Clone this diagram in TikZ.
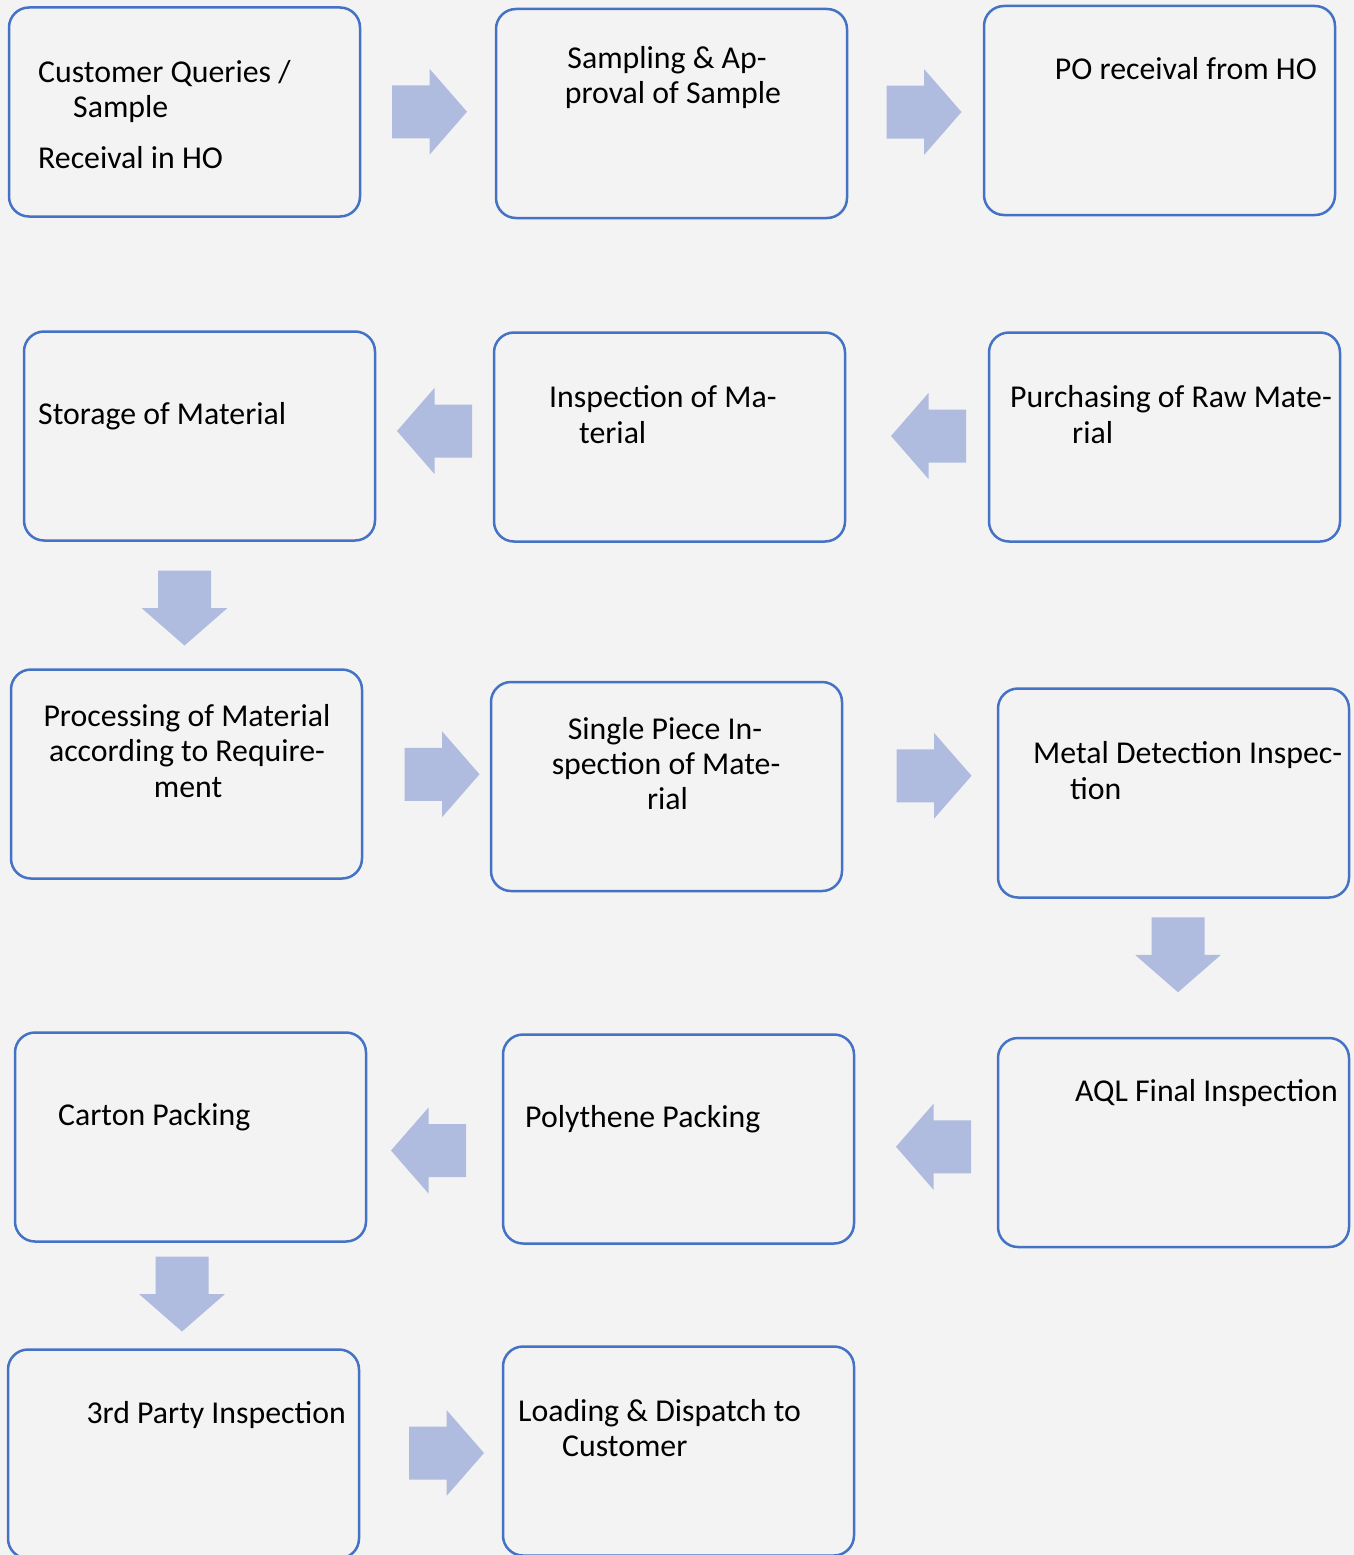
\documentclass[tikz,border=0pt]{standalone}
\usepackage{fontspec}
\setmainfont{Carlito}
\usetikzlibrary{calc}
\definecolor{pagebg}{RGB}{243,243,243}
\definecolor{boxline}{RGB}{68,114,196}
\definecolor{arrowfill}{RGB}{175,188,224}
\tikzset{
  stepbox/.style={draw=boxline, line width=2.5pt, rounded corners=20pt,
    minimum width=351pt, minimum height=209pt, inner sep=0pt},
  lbl/.style={inner sep=0pt, font=\fontsize{31.8}{36}\selectfont, text=black},
  blockarrow/.pic={
    \fill[arrowfill] (-37.5,-26.5) -- (0,-26.5) -- (0,-43) -- (37.5,0)
      -- (0,43) -- (0,26.5) -- (-37.5,26.5) -- cycle;
  },
}
\begin{document}
\begin{tikzpicture}[x=1pt, y=-1pt]
  \fill[pagebg] (0,0) rectangle (1354,1555);
  \useasboundingbox (0,0) rectangle (1354,1555);

  % process steps
  \node[stepbox] (b1)  at (184.5,112)   {};
  \node[stepbox] (b2)  at (671.5,113.5) {};
  \node[stepbox] (b3)  at (1159.5,110.5) {};
  \node[stepbox] (b4)  at (199.5,436)   {};
  \node[stepbox] (b5)  at (669.5,437)   {};
  \node[stepbox] (b6)  at (1164.5,437)  {};
  \node[stepbox] (b7)  at (186.5,774)   {};
  \node[stepbox] (b8)  at (666.5,786.5) {};
  \node[stepbox] (b9)  at (1173.5,793)  {};
  \node[stepbox] (b10) at (1173.5,1142.5) {};
  \node[stepbox] (b11) at (678.5,1139)  {};
  \node[stepbox] (b12) at (190.5,1137)  {};
  \node[stepbox] (b13) at (183.5,1454)  {};
  \node[stepbox] (b14) at (678.5,1451)  {};

  % step texts
  \node[lbl, anchor=base west] (t1a) at (38,82)  {Customer Queries /};
  \node[lbl, anchor=base west] (t1b) at (73,117) {Sample};
  \node[lbl, anchor=base west] (t1c) at (38,168) {Receival in HO};

  \node[lbl, anchor=base] (t2a) at (667,68)  {Sampling \& Ap-};
  \node[lbl, anchor=base] (t2b) at (673,103) {proval of Sample};

  \node[lbl, anchor=base east] (t3a) at (1317,79) {PO receival from HO};

  \node[lbl, anchor=base west] (t4a) at (38,424) {Storage of Material};

  \node[lbl, anchor=base west] (t5a) at (549,407) {Inspection of Ma-};
  \node[lbl, anchor=base west] (t5b) at (579,443) {terial};

  \node[lbl, anchor=base west] (t6a) at (1010,407) {Purchasing of Raw Mate-};
  \node[lbl, anchor=base west] (t6b) at (1072,443) {rial};

  \node[lbl, anchor=base] (t7a) at (187,726) {Processing of Material};
  \node[lbl, anchor=base] (t7b) at (187,761) {according to Require-};
  \node[lbl, anchor=base] (t7c) at (188,797) {ment};

  \node[lbl, anchor=base] (t8a) at (665,739) {Single Piece In-};
  \node[lbl, anchor=base] (t8b) at (666,774) {spection of Mate-};
  \node[lbl, anchor=base] (t8c) at (667.5,809) {rial};

  \node[lbl, anchor=base west] (t9a) at (1033,763) {Metal Detection Inspec-};
  \node[lbl, anchor=base west] (t9b) at (1070,799) {tion};

  \node[lbl, anchor=base east] (t10a) at (1338,1101) {AQL Final Inspection};
  \node[lbl, anchor=base west] (t11a) at (525,1127) {Polythene Packing};
  \node[lbl, anchor=base west] (t12a) at (58,1125) {Carton Packing};
  \node[lbl, anchor=base east] (t13a) at (346,1423) {3rd Party Inspection};

  \node[lbl, anchor=base west] (t14a) at (518,1421) {Loading \& Dispatch to};
  \node[lbl, anchor=base west] (t14b) at (562,1456) {Customer};

  % block arrows between the steps
  \pic at ($(b1.east)!0.5!(b2.west)+(1.5,-1)$) {blockarrow};
  \pic at ($(b2.east)!0.5!(b3.west)+(8.5,0)$) {blockarrow};
  \pic[rotate=180] at ($(b6.west)!0.5!(b5.east)+(11.5,-1)$) {blockarrow};
  \pic[rotate=180] at ($(b5.west)!0.5!(b4.east)+(0,-5.5)$) {blockarrow};
  \pic[rotate=-90] at ($(b4.south)!0.5!(b7.north)+(-8.5,3)$) {blockarrow};
  \pic at ($(b7.east)!0.5!(b8.west)+(15.5,-6)$) {blockarrow};
  \pic at ($(b8.east)!0.5!(b9.west)+(14,-14)$) {blockarrow};
  \pic[rotate=-90] at ($(b9.south)!0.5!(b10.north)+(4.5,-13)$) {blockarrow};
  \pic[rotate=180] at ($(b10.west)!0.5!(b11.east)+(7.5,6)$) {blockarrow};
  \pic[rotate=180] at ($(b11.west)!0.5!(b12.east)+(-6,12.5)$) {blockarrow};
  \pic[rotate=-90] at ($(b12.south)!0.5!(b13.north)+(-5,-1.5)$) {blockarrow};
  \pic at ($(b13.east)!0.5!(b14.west)+(15.5,0.5)$) {blockarrow};
\end{tikzpicture}
\end{document}
